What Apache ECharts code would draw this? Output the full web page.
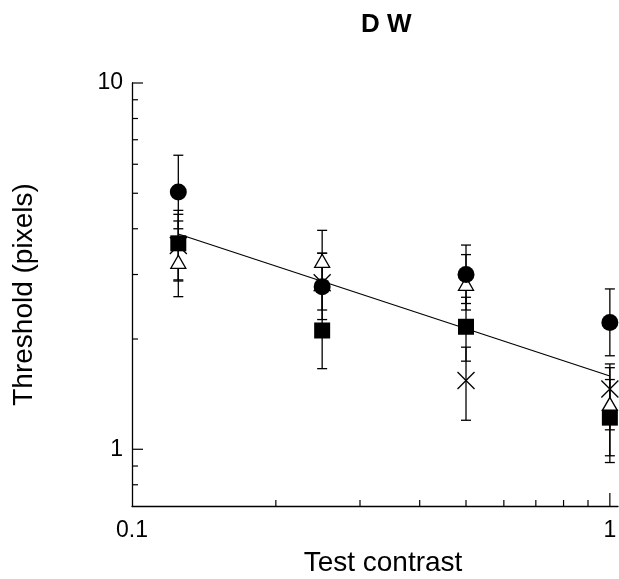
<!DOCTYPE html>
<html>
<head>
<meta charset="utf-8">
<style>
  html, body { margin: 0; padding: 0; background: #fff; }
  #chart { width: 619px; height: 579px; }
</style>
<script src="https://cdn.jsdelivr.net/npm/echarts@6/dist/echarts.min.js"></script>
</head>
<body>
<div id="chart"></div>
<script>
// test contrast levels (x)
const contrasts = [0.125, 0.25, 0.5, 1];

// thresholds in pixels, with error bar ends
const circleY  = [5.04, 2.78, 3.0, 2.22];
const circleHi = [6.35, 3.43, 3.61, 2.74];
const circleLo = [4.0, 2.26, 2.5, 1.8];

const squareY  = [3.65, 2.11, 2.16, 1.22];
const squareHi = [4.49, 2.69, 2.6, 1.55];
const squareLo = [2.88, 1.66, 1.74, 0.92];

const triangleY  = [3.25, 3.27, 2.83, 1.33];
const triangleHi = [4.38, 3.96, 3.4, 1.67];
const triangleLo = [2.61, 2.71, 2.4, 0.96];

const crossY  = [3.6, 2.85, 1.54, 1.46];
const crossHi = [4.2, 3.43, 1.9, 1.71];
const crossLo = [2.9, 2.4, 1.2, 1.13];

// fitted line
const fitX = [0.125, 1];
const fitY = [3.87, 1.585];

// tick positions
const xMajorTicks = [1];
const xMinorTicks = [0.2, 0.3, 0.4, 0.5, 0.6, 0.7, 0.8, 0.9];
const yMajorTicks = [1, 10];
const yMinorTicks = [0.8, 0.9, 2, 3, 4, 5, 6, 7, 8, 9];
const xTickLabels = ['0.1', '1'];
const yTickLabels = ['1', '10'];

const X_MIN = 0.1, X_MAX = 1.04, Y_MIN = 0.7, Y_MAX = 10;
const FONT = '"Liberation Sans", Arial, Helvetica, sans-serif';

const chart = echarts.init(document.getElementById('chart'), null, { renderer: 'canvas' });

function pickLabel(labels) {
  return (v) => {
    const hit = labels.find(l => Math.abs(Number(l) - v) < 1e-6);
    return hit || '';
  };
}

function tickSeries(values, len, dir) {
  return {
    type: 'custom',
    silent: true,
    clip: false,
    z: 1,
    data: values.map(v => dir === 'x' ? [v, Y_MIN] : [X_MIN, v]),
    renderItem: (params, api) => {
      const p = api.coord([api.value(0), api.value(1)]);
      const shape = dir === 'x'
        ? { x1: p[0], y1: p[1], x2: p[0], y2: p[1] - len }
        : { x1: p[0], y1: p[1], x2: p[0] + len, y2: p[1] };
      return { type: 'line', shape, style: { stroke: '#000', lineWidth: 1.2 } };
    },
  };
}

function errorSeries(lo, hi) {
  return {
    type: 'custom',
    silent: true,
    clip: false,
    z: 2,
    data: contrasts.map((x, i) => [x, lo[i], hi[i]]),
    encode: { x: 0, y: [1, 2] },
    renderItem: (params, api) => {
      const top = api.coord([api.value(0), api.value(2)]);
      const bot = api.coord([api.value(0), api.value(1)]);
      const w = 5;
      const st = { stroke: '#000', lineWidth: 1.3 };
      return {
        type: 'group',
        children: [
          { type: 'line', shape: { x1: top[0], y1: top[1], x2: bot[0], y2: bot[1] }, style: st },
          { type: 'line', shape: { x1: top[0] - w, y1: top[1], x2: top[0] + w, y2: top[1] }, style: st },
          { type: 'line', shape: { x1: bot[0] - w, y1: bot[1], x2: bot[0] + w, y2: bot[1] }, style: st },
        ],
      };
    },
  };
}

function points(ys) {
  return contrasts.map((x, i) => [x, ys[i]]);
}

chart.setOption({
  animation: false,
  backgroundColor: '#fff',
  title: {
    text: 'D W',
    left: 356,
    top: 7,
    textStyle: { fontFamily: FONT, fontSize: 26, fontWeight: 'bold', color: '#000' },
  },
  grid: { left: 132, top: 83, right: 1, bottom: 73, outerBoundsMode: 'none' },
  xAxis: {
    type: 'log',
    logBase: 10,
    min: X_MIN,
    max: X_MAX,
    name: 'Test contrast',
    nameLocation: 'middle',
    nameGap: 43,
    nameTextStyle: { fontFamily: FONT, fontSize: 28, color: '#000', padding: [0, 0, 0, 16] },
    axisLine: { lineStyle: { color: '#000', width: 1.3 } },
    axisTick: { show: false },
    splitLine: { show: false },
    axisLabel: {
      margin: 13,
      fontFamily: FONT,
      fontSize: 23,
      color: '#000',
      showMinLabel: true,
      showMaxLabel: true,
      formatter: pickLabel(xTickLabels),
    },
  },
  yAxis: {
    type: 'log',
    logBase: 10,
    min: Y_MIN,
    max: Y_MAX,
    name: 'Threshold (pixels)',
    nameLocation: 'middle',
    nameRotate: 90,
    nameGap: 94,
    nameTextStyle: { fontFamily: FONT, fontSize: 28, color: '#000' },
    axisLine: { lineStyle: { color: '#000', width: 1.3 } },
    axisTick: { show: false },
    splitLine: { show: false },
    axisLabel: {
      margin: 9,
      fontFamily: FONT,
      fontSize: 23,
      color: '#000',
      showMinLabel: true,
      showMaxLabel: true,
      formatter: pickLabel(yTickLabels),
    },
  },
  series: [
    tickSeries(xMajorTicks, 13, 'x'),
    tickSeries(xMinorTicks, 6, 'x'),
    tickSeries(yMajorTicks, 11, 'y'),
    tickSeries(yMinorTicks, 6, 'y'),
    {
      type: 'line',
      data: fitX.map((x, i) => [x, fitY[i]]),
      symbol: 'none',
      z: 1,
      lineStyle: { color: '#000', width: 1.2 },
    },
    errorSeries(triangleLo, triangleHi),
    errorSeries(crossLo, crossHi),
    errorSeries(squareLo, squareHi),
    errorSeries(circleLo, circleHi),
    {
      type: 'scatter',
      data: points(triangleY),
      symbol: 'triangle',
      symbolSize: [15, 13],
      z: 3,
      itemStyle: { color: '#fff', borderColor: '#000', borderWidth: 1.3, opacity: 1 },
    },
    {
      type: 'scatter',
      data: points(crossY),
      symbol: 'path://M0,0L10,10M10,0L0,10',
      symbolSize: 17,
      z: 4,
      itemStyle: { color: 'none', borderColor: '#000', borderWidth: 1.3, opacity: 1 },
    },
    {
      type: 'scatter',
      data: points(squareY),
      symbol: 'rect',
      symbolSize: 16,
      z: 5,
      itemStyle: { color: '#000', opacity: 1 },
    },
    {
      type: 'scatter',
      data: points(circleY),
      symbol: 'circle',
      symbolSize: 17,
      z: 6,
      itemStyle: { color: '#000', opacity: 1 },
    },
  ],
});
</script>
</body>
</html>
